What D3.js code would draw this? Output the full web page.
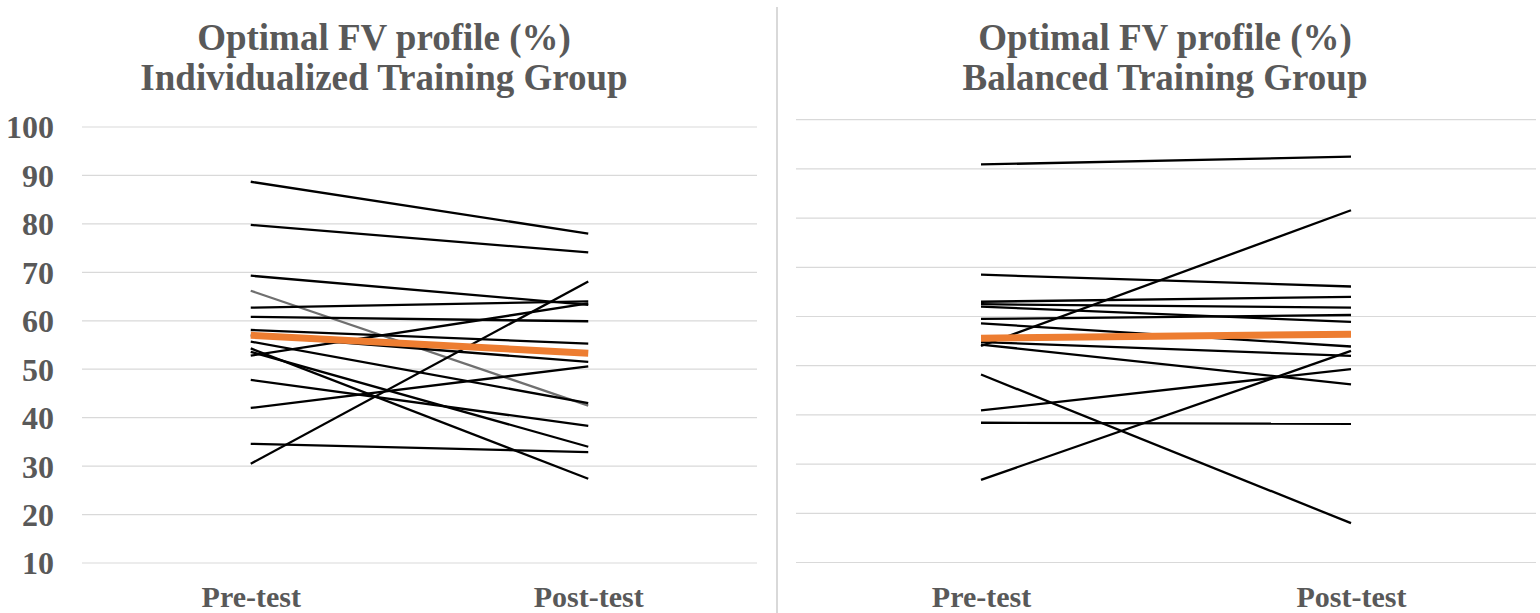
<!DOCTYPE html>
<html>
<head>
<meta charset="utf-8">
<script src="https://cdn.jsdelivr.net/npm/d3@7/dist/d3.min.js"></script>
<style>
  html, body { margin: 0; padding: 0; background: #fff; }
  svg { display: block; }
  text { font-family: "Liberation Serif", "Times New Roman", serif; font-weight: bold; fill: #595959; }
</style>
</head>
<body>
<svg id="chart" width="1540" height="613"></svg>
<script>
// Test sessions on the category axis
const sessions = ["Pre-test", "Post-test"];
const yTicks = [10, 20, 30, 40, 50, 60, 70, 80, 90, 100];

// Individualized training group: each participant's optimal FV profile (%)
const indivPre  = [88.7, 79.8, 69.3, 66.2, 62.7, 60.8, 58.1, 57.0, 55.7, 54.3, 53.6, 52.8, 47.8, 42.0, 34.6, 30.5];
const indivPost = [78.0, 74.1, 63.3, 42.5, 64.0, 59.9, 55.3, 51.5, 43.0, 27.4, 34.0, 63.6, 38.3, 50.6, 32.9, 68.1];
const indivMean = [57.0, 53.3];

// Balanced training group
const balPre  = [90.9, 54.0, 68.5, 63.0, 62.5, 62.0, 59.5, 58.6, 26.8, 54.8, 40.9, 54.3, 38.4, 48.2];
const balPost = [92.5, 81.6, 66.1, 64.0, 61.8, 58.9, 60.3, 53.9, 53.0, 52.0, 49.3, 46.2, 38.2, 18.0];
const balMean = [55.6, 56.4];

const svg = d3.select("#chart");

function styleText(sel, size) {
  sel.attr("font-size", size)
    .attr("font-family", "'Liberation Serif', 'Times New Roman', serif")
    .attr("font-weight", "bold")
    .attr("fill", "#595959");
}

function drawPanel(cfg) {
  const x = d3.scalePoint().domain(sessions).range([cfg.left, cfg.right]).padding(0.5);
  const y = d3.scaleLinear().domain([10, 100]).range([cfg.bottom, cfg.top]);
  const g = svg.append("g");

  // horizontal gridlines
  g.append("g").selectAll("line").data(yTicks).join("line")
    .attr("x1", cfg.left).attr("x2", cfg.right)
    .attr("y1", d => y(d)).attr("y2", d => y(d))
    .attr("stroke", "#d9d9d9").attr("stroke-width", 1.2);

  // value axis labels
  if (cfg.showY) {
    const ax = d3.axisLeft(y).tickValues(yTicks).tickSize(0).tickPadding(0);
    const axg = g.append("g").attr("transform", `translate(${cfg.labelX},0)`).call(ax);
    axg.select(".domain").remove();
    styleText(axg.selectAll("text"), 32);
    axg.selectAll("text").attr("dy", "0.34em");
  }

  // category labels
  const xax = d3.axisBottom(x).tickSize(0).tickPadding(0);
  const xg = g.append("g").attr("transform", `translate(0,${cfg.labelY})`).call(xax);
  xg.select(".domain").remove();
  styleText(xg.selectAll("text"), 30);
  xg.selectAll("text").attr("dy", 0);

  // title
  const t = g.append("text").attr("text-anchor", "middle").attr("font-size", 37);
  t.append("tspan").attr("x", cfg.titleX).attr("y", 50).text("Optimal FV profile (%)");
  t.append("tspan").attr("x", cfg.titleX).attr("y", 90).text(cfg.title);

  const line = d3.line().x(d => x(d.s)).y(d => y(d.v));
  const people = cfg.pre.map((v, i) => [{ s: sessions[0], v }, { s: sessions[1], v: cfg.post[i] }]);

  g.append("g").selectAll("path").data(people).join("path")
    .attr("d", line)
    .attr("fill", "none")
    .attr("stroke", (d, i) => i === cfg.greyIndex ? "#6f6f6f" : "#000")
    .attr("stroke-width", 2.3);

  const mean = cfg.mean.map((v, i) => ({ s: sessions[i], v }));
  g.append("path")
    .attr("d", line(mean))
    .attr("fill", "none")
    .attr("stroke", "#ED7D31")
    .attr("stroke-width", 7);
}

drawPanel({
  left: 82, right: 757, top: 127, bottom: 563,
  showY: true, labelX: 54, labelY: 607, titleX: 384,
  title: "Individualized Training Group",
  pre: indivPre, post: indivPost, mean: indivMean, greyIndex: 3
});

drawPanel({
  left: 796, right: 1536, top: 119.7, bottom: 562.5,
  showY: false, labelY: 607, titleX: 1165,
  title: "Balanced Training Group",
  pre: balPre, post: balPost, mean: balMean, greyIndex: -1
});

// divider between the two panels
svg.append("line")
  .attr("x1", 777).attr("x2", 777).attr("y1", 7).attr("y2", 613)
  .attr("stroke", "#d9d9d9").attr("stroke-width", 2);
</script>
</body>
</html>
